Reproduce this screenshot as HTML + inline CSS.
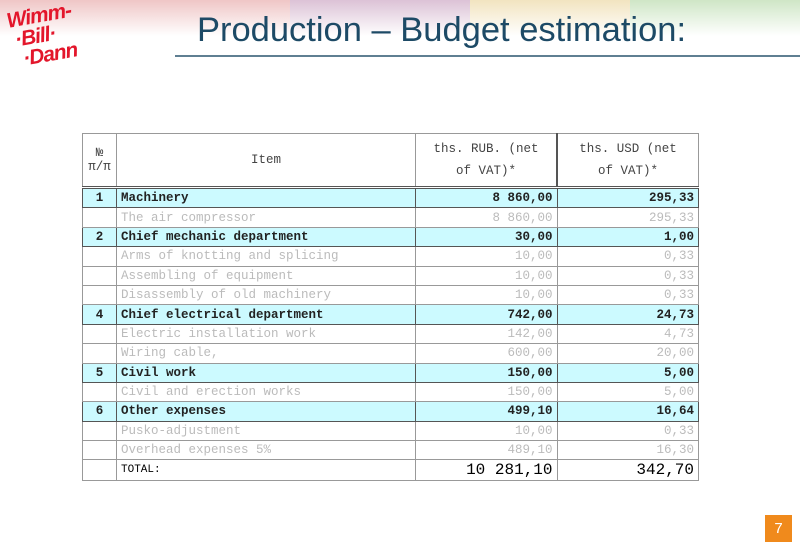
<!DOCTYPE html>
<html><head><meta charset="utf-8"><style>
body{margin:0;width:800px;height:554px;background:#fff;position:relative;overflow:hidden;font-family:"Liberation Sans",sans-serif}
.band{position:absolute;top:0;height:36px}
.title{position:absolute;left:197px;top:11px;font-size:34.5px;color:#1d4a66;white-space:nowrap}
.rule{position:absolute;left:175px;top:55px;width:625px;height:2px;background:#5f7f92}
.logo{position:absolute;left:10px;top:6px;color:#e3162b;font-weight:bold;font-style:italic;font-size:21px;line-height:20px;transform:rotate(-10deg);font-family:"Liberation Sans",sans-serif;letter-spacing:-1px}
table{position:absolute;left:82px;top:133px;border-collapse:collapse;font-family:"Liberation Mono",monospace;font-size:12.5px}
td{border:1px solid #999;padding:0 4px;height:18.4px;white-space:nowrap}
tr.h td{background:#ccfaff;font-weight:bold;color:#222;border-color:#555}
tr.g td{color:#bbb}
td.n{text-align:center;width:25px}
td.i{width:290px}
td.r{text-align:right;width:132px}
.pg{position:absolute;left:765px;top:515px;width:27px;height:27px;background:#f08a1c;color:#fff;font-size:15px;text-align:center;line-height:27px}
</style></head><body>
<div class="band" style="left:0;width:290px;background:linear-gradient(#efc6c6,#fff)"></div>
<div class="band" style="left:290px;width:180px;background:linear-gradient(#dcc2d6,#fff)"></div>
<div class="band" style="left:470px;width:160px;background:linear-gradient(#f2e4c0,#fff)"></div>
<div class="band" style="left:630px;width:170px;background:linear-gradient(#cfe6c6,#fff)"></div>
<div class="logo">Wimm-<br>&nbsp;·Bill·<br>&nbsp;&nbsp;·Dann</div>
<div class="title">Production – Budget estimation:</div>
<div class="rule"></div>
<table>
<tr><td class="n" style="height:52px;color:#444">№<br>π/π</td><td class="i" style="text-align:center;color:#444">Item</td><td class="r" style="color:#444;text-align:center;line-height:22px">ths. RUB. (net<br>of VAT)*</td><td class="r" style="color:#444;text-align:center;line-height:22px;border-left:2px solid #555">ths. USD (net<br>of VAT)*</td></tr>
<tr class="h" style="border-top:3px double #555"><td class="n">1</td><td class="i">Machinery</td><td class="r">8 860,00</td><td class="r">295,33</td></tr>
<tr class="g"><td></td><td>The air compressor</td><td class="r">8 860,00</td><td class="r">295,33</td></tr>
<tr class="h"><td class="n">2</td><td>Chief mechanic department</td><td class="r">30,00</td><td class="r">1,00</td></tr>
<tr class="g"><td></td><td>Arms of knotting and splicing</td><td class="r">10,00</td><td class="r">0,33</td></tr>
<tr class="g"><td></td><td>Assembling of equipment</td><td class="r">10,00</td><td class="r">0,33</td></tr>
<tr class="g"><td></td><td>Disassembly of old machinery</td><td class="r">10,00</td><td class="r">0,33</td></tr>
<tr class="h"><td class="n">4</td><td>Chief electrical department</td><td class="r">742,00</td><td class="r">24,73</td></tr>
<tr class="g"><td></td><td>Electric installation work</td><td class="r">142,00</td><td class="r">4,73</td></tr>
<tr class="g"><td></td><td>Wiring cable,</td><td class="r">600,00</td><td class="r">20,00</td></tr>
<tr class="h"><td class="n">5</td><td>Civil work</td><td class="r">150,00</td><td class="r">5,00</td></tr>
<tr class="g"><td></td><td>Civil and erection works</td><td class="r">150,00</td><td class="r">5,00</td></tr>
<tr class="h"><td class="n">6</td><td>Other expenses</td><td class="r">499,10</td><td class="r">16,64</td></tr>
<tr class="g"><td></td><td>Pusko-adjustment</td><td class="r">10,00</td><td class="r">0,33</td></tr>
<tr class="g"><td></td><td>Overhead expenses 5%</td><td class="r">489,10</td><td class="r">16,30</td></tr>
<tr><td style="height:20px"></td><td style="font-size:11px">TOTAL:</td><td class="r" style="font-size:16px">10 281,10</td><td class="r" style="font-size:16px">342,70</td></tr>
</table>
<div class="pg">7</div>
</body></html>
